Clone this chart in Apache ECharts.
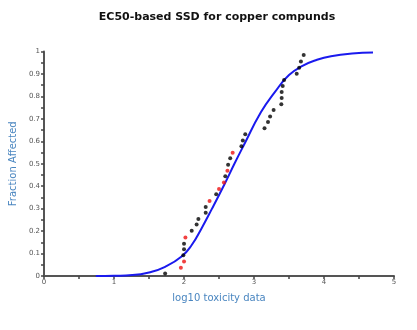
<!DOCTYPE html>
<html><head><meta charset="utf-8">
<script src="https://cdn.jsdelivr.net/npm/echarts@6/dist/echarts.min.js"></script>
<style>html,body{margin:0;padding:0;background:#fff}#c{width:417px;height:330px}</style>
</head><body><div id="c"></div>
<script>
var titleText = "EC50-based SSD for copper compunds";
var xName = "log10 toxicity data";
var yName = "Fraction Affected";
// black points [log10 toxicity, fraction]
var blackX = [1.73,1.99,2.0,2.0,2.11,2.18,2.205,2.31,2.31,2.46,2.59,2.63,2.66,2.82,2.84,2.875,3.15,3.20,3.23,3.28,3.39,3.395,3.395,3.41,3.43,3.61,3.645,3.67,3.71];
var blackY = [0.011,0.092,0.119,0.144,0.202,0.229,0.254,0.282,0.307,0.364,0.444,0.496,0.524,0.578,0.604,0.631,0.658,0.686,0.711,0.739,0.765,0.793,0.82,0.846,0.873,0.901,0.928,0.955,0.984];
// red points
var redX = [1.955,2.0,2.02,2.365,2.50,2.57,2.62,2.695];
var redY = [0.037,0.065,0.172,0.334,0.387,0.416,0.469,0.549];
// fitted curve
var curveX = [0.74,1.0,1.26,1.5,1.73,1.97,2.11,2.25,2.4,2.58,2.72,2.85,3.1,3.3,3.5,3.7,3.9,4.1,4.4,4.7];
var curveY = [0.0,0.001,0.004,0.016,0.041,0.088,0.138,0.212,0.30,0.41,0.50,0.58,0.73,0.82,0.895,0.937,0.963,0.979,0.991,0.995];

function zip(a,b){return a.map(function(v,i){return [v,b[i]];});}
var chart = echarts.init(document.getElementById('c'));
var axisCommon = {
  axisLine:{show:true,onZero:false,lineStyle:{color:'#555',width:2}},
  axisTick:{show:true,length:3,lineStyle:{color:'#444',width:1.5}},
  minorTick:{show:true,splitNumber:2,length:3,lineStyle:{color:'#444',width:1.5}},
  splitLine:{show:false},
  axisLabel:{fontSize:7,color:'#555',fontFamily:'DejaVu Sans',margin:3}
};
chart.setOption({
  animation:false,
  title:{text:titleText,left:212,top:7,textAlign:'center',
    textStyle:{fontSize:11,fontWeight:'bold',color:'#111',fontFamily:'DejaVu Sans'}},
  grid:{left:41,right:23,top:51.5,bottom:54,containLabel:false},
  xAxis:Object.assign({type:'value',min:0,max:5,interval:1,name:xName,nameLocation:'middle',nameGap:17,
    nameTextStyle:{fontSize:10,color:'#4a86c0',fontFamily:'DejaVu Sans'}},axisCommon),
  yAxis:Object.assign({type:'value',min:0,max:1,interval:0.1,name:yName,nameLocation:'middle',nameGap:26,
    nameTextStyle:{fontSize:10,color:'#4a86c0',fontFamily:'DejaVu Sans'}},axisCommon,
    {axisLabel:{fontSize:7,color:'#555',fontFamily:'DejaVu Sans',margin:4,formatter:function(v){return v===0?'0':(v===1?'1':v.toFixed(1));}}}),
  series:[
    {type:'line',data:zip(curveX,curveY),smooth:0.5,showSymbol:false,lineStyle:{color:'#1a1aee',width:2},z:2},
    {type:'scatter',data:zip(blackX,blackY),symbolSize:4,itemStyle:{color:'#000'},z:3},
    {type:'scatter',data:zip(redX,redY),symbolSize:4,itemStyle:{color:'#ee1111'},z:3}
  ]
});
</script></body></html>
